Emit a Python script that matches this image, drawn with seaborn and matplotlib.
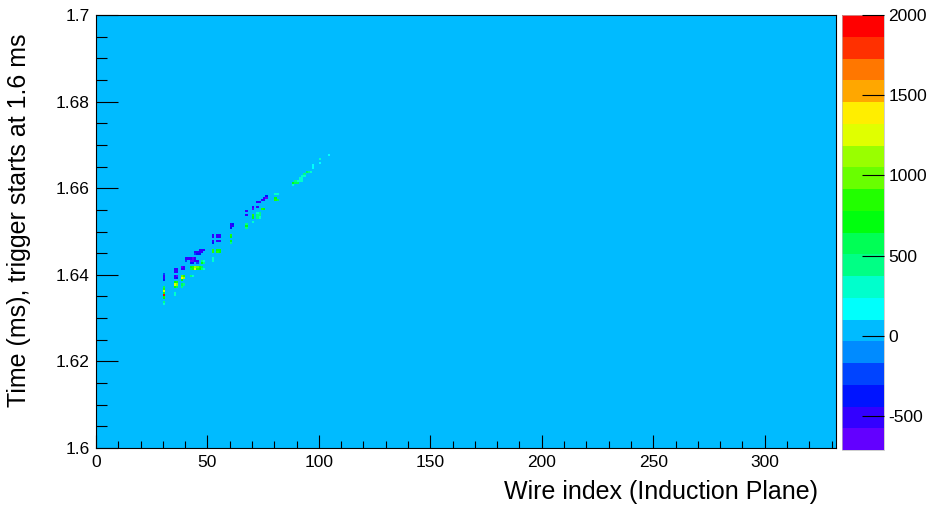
import numpy as np
import pandas as pd
import matplotlib
matplotlib.use("Agg")
import matplotlib.pyplot as plt
import seaborn as sns
from matplotlib.colors import ListedColormap
from matplotlib.ticker import MultipleLocator, FormatStrFormatter

# ---- detector hits: wire, time (ms), ADC amplitude --------------------------
hit_wire = [
    30, 30, 30, 30, 30, 30, 30, 30, 30, 30, 30, 30,
    35, 36, 35, 36, 35, 36, 35, 36, 35, 36, 35, 36, 35, 36, 35, 35,
    38, 39, 38, 39, 38, 39, 38, 39, 38, 38, 39, 38, 40, 41, 40,
    46, 47, 48, 44, 45, 46, 47, 44, 45, 46, 42, 43, 44,
    42, 43, 44, 45, 47, 48, 42, 43, 45, 47, 48,
    42, 43, 44, 45, 46, 47, 42, 43, 44, 45, 46, 47, 48, 42, 43,
    52, 52, 52, 52, 52, 52, 52, 52,
    54, 55, 54, 55, 54, 55, 54, 55, 54, 55,
    60, 61, 60, 61, 60, 60, 60, 60, 60,
    67, 67, 67, 67, 67,
    70, 70, 70, 70, 70,
    72, 72, 73, 72, 73, 72, 73,
    72, 73, 74, 75, 75, 76, 76, 74, 75,
    80, 81, 80, 80, 81,
    88, 88, 89, 90, 89, 90, 91, 92, 91, 92, 92, 93, 93, 94, 95, 96,
    97, 97, 100, 100, 104,
]

hit_time_ms = [
    1.64025, 1.63975, 1.63925, 1.63875, 1.63725, 1.63675, 1.63625, 1.63575, 1.63525, 1.63475, 1.63375, 1.63325,
    1.64125, 1.64125, 1.64075, 1.64075, 1.63975, 1.63975, 1.63925, 1.63925, 1.63825, 1.63825, 1.63775, 1.63775, 1.63725, 1.63725, 1.63575, 1.63525,
    1.64175, 1.64175, 1.64125, 1.64125, 1.63975, 1.63975, 1.63925, 1.63925, 1.63875, 1.63775, 1.63775, 1.63725, 1.64375, 1.64375, 1.64325,
    1.64575, 1.64575, 1.64575, 1.64525, 1.64525, 1.64525, 1.64525, 1.64475, 1.64475, 1.64475, 1.64375, 1.64375, 1.64375,
    1.64325, 1.64325, 1.64325, 1.64325, 1.64325, 1.64325, 1.64275, 1.64275, 1.64275, 1.64275, 1.64275,
    1.64175, 1.64175, 1.64175, 1.64175, 1.64175, 1.64175, 1.64125, 1.64125, 1.64125, 1.64125, 1.64125, 1.64125, 1.64125, 1.63975, 1.63975,
    1.64925, 1.64875, 1.64775, 1.64725, 1.64575, 1.64525, 1.64375, 1.64325,
    1.64925, 1.64925, 1.64875, 1.64875, 1.64775, 1.64775, 1.64575, 1.64575, 1.64525, 1.64525,
    1.65175, 1.65175, 1.65125, 1.65125, 1.65075, 1.64925, 1.64875, 1.64775, 1.64725,
    1.65475, 1.65375, 1.65175, 1.65125, 1.65075,
    1.65575, 1.65525, 1.65375, 1.65325, 1.65225,
    1.65575, 1.65425, 1.65425, 1.65375, 1.65375, 1.65325, 1.65325,
    1.65675, 1.65675, 1.65725, 1.65725, 1.65775, 1.65775, 1.65825, 1.65525, 1.65525,
    1.65875, 1.65875, 1.65775, 1.65725, 1.65725,
    1.66075, 1.66125, 1.66125, 1.66125, 1.66175, 1.66175, 1.66175, 1.66175, 1.66225, 1.66225, 1.66275, 1.66275, 1.66325, 1.66375, 1.66375, 1.66375,
    1.66525, 1.66475, 1.66675, 1.66575, 1.66775,
]

hit_adc = [
    -300, -520, -560, -400, 600, 900, 1250, 800, 1950, 650, 380, 320,
    -520, -560, -480, -500, -450, -600, -500, -400, 650, 800, 1300, 1100, 700, 600, 350, 300,
    -600, -520, -500, -450, 1000, 900, 1350, 1150, 700, 600, 450, 400, -550, -450, -300,
    -500, -550, -450, -450, -520, -560, -500, -300, -400, -350, -500, -600, -550,
    -580, -620, -500, -450, 500, 350, -400, -350, -300, 650, 400,
    700, 900, 1100, 1000, 800, 600, 600, 800, 1300, 900, 650, 500, 350, 400, 350,
    -450, -520, -550, -400, 800, 900, 350, 300,
    -500, -550, -560, -480, -450, -500, 700, 650, 850, 750,
    -450, -350, -550, -500, -400, 800, 700, 650, 500,
    -450, -500, 450, 700, 400,
    -550, -600, 800, 700, 300,
    -500, 350, 400, 450, 500, 380, 350,
    -450, -550, -560, -500, -450, -600, -400, 800, 700,
    300, 250, 750, 800, 600,
    250, 700, 600, 550, 400, 350, 300, 350, 300, 250, 300, 250, 400, 600, 500, 300,
    200, 180, 350, 180, 180,
]

# histogram binning: one bin per wire, 0.5 us per time sample
n_wires = 332
t_start, t_stop, n_samples = 1.6, 1.7, 200
z_min, z_max = -712, 2000
colorbar_ticks = [-500, 0, 500, 1000, 1500, 2000]

# 20-level violet -> red spectrum
palette_hex = [
    "#6300FF", "#3300FF", "#0014FF", "#0044FF", "#008BFF",
    "#00BBFF", "#00FFFC", "#00FFCC", "#00FF85", "#00FF55",
    "#00FF0E", "#22FF00", "#69FF00", "#99FF00", "#E0FF00",
    "#FFEE00", "#FFA700", "#FF7700", "#FF3000", "#FF0000",
]

sns.set_theme(style="white")
plt.rcParams["font.family"] = ["Liberation Sans", "DejaVu Sans"]
plt.rcParams["axes.unicode_minus"] = False
plt.rcParams["axes.axisbelow"] = False

W, H = 930, 505
fig = plt.figure(figsize=(W / 100, H / 100), dpi=100)
ax = fig.add_axes([96 / W, 1 - 448 / H, (836 - 96) / W, (448 - 15) / H])
cax = fig.add_axes([842 / W, 1 - 450 / H, (884 - 842) / W, (450 - 15) / H])

hits = pd.DataFrame({"wire": hit_wire, "time": hit_time_ms, "adc": hit_adc})
wire_edges = np.arange(0, n_wires + 1)
time_edges = np.linspace(t_start, t_stop, n_samples + 1)

sns.histplot(
    data=hits, x="wire", y="time", weights="adc",
    bins=(wire_edges, time_edges), thresh=None,
    cmap=ListedColormap(palette_hex), vmin=z_min, vmax=z_max,
    cbar=False, ax=ax,
)
mesh = ax.collections[0]

ax.set_axisbelow(False)
ax.set_xlim(0, n_wires)
ax.set_ylim(t_start, t_stop)
ax.set_xlabel("")
ax.set_ylabel("")

ax.xaxis.set_major_locator(MultipleLocator(50))
ax.xaxis.set_minor_locator(MultipleLocator(10))
ax.yaxis.set_major_locator(MultipleLocator(0.02))
ax.yaxis.set_minor_locator(MultipleLocator(0.005))
ax.xaxis.set_major_formatter(FormatStrFormatter("%g"))
ax.yaxis.set_major_formatter(FormatStrFormatter("%g"))

ax.tick_params(axis="both", which="both", direction="in", colors="black",
               labelcolor="black", bottom=True, left=True, top=False, right=False)
ax.tick_params(axis="x", which="major", length=9.4, width=0.8, labelsize=12.5, pad=5)
ax.tick_params(axis="x", which="minor", length=5, width=0.8)
ax.tick_params(axis="y", which="major", length=15.8, width=0.8, labelsize=12.5, pad=4.5)
ax.tick_params(axis="y", which="minor", length=8, width=0.8)
for side in ax.spines.values():
    side.set_visible(True)
    side.set_color("black")
    side.set_linewidth(0.8)

cbar = fig.colorbar(mesh, cax=cax)
cbar.ax.set_axisbelow(False)
cbar.set_ticks(colorbar_ticks)
cbar.ax.yaxis.set_major_formatter(FormatStrFormatter("%g"))
cbar.ax.tick_params(direction="in", length=15.8, width=0.8, colors="black",
                    labelcolor="black", labelsize=12.5, pad=3, right=True)
cbar.ax.minorticks_off()
cbar.outline.set_edgecolor("#bbbbbb")
cbar.outline.set_linewidth(0.5)

fig.text(818 / W, 1 - 492 / H, "Wire index (Induction Plane)",
         ha="right", va="center", fontsize=18, color="black")
fig.text(19 / W, 1 - 33 / H, "Time (ms), trigger starts at 1.6 ms",
         rotation=90, rotation_mode="anchor", ha="right", va="center",
         fontsize=18, color="black")

fig.savefig("out.png", dpi=100, facecolor="white")
